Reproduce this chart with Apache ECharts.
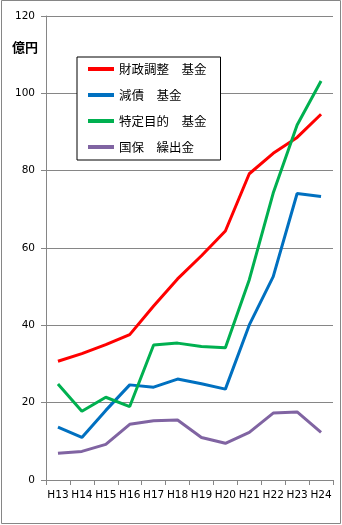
<!DOCTYPE html>
<html>
<head>
<meta charset="utf-8">
<script src="https://cdn.jsdelivr.net/npm/echarts@6/dist/echarts.min.js"></script>
<style>
html,body{margin:0;padding:0;background:#fff;}
#c{width:342px;height:525px;}
</style>
</head>
<body>
<div id="c"></div>
<script>
const categories = ['H13','H14','H15','H16','H17','H18','H19','H20','H21','H22','H23','H24'];
const zaiseiChousei = [30.7, 32.7, 35.0, 37.6, 45.0, 52.0, 58.0, 64.4, 79.2, 84.5, 88.6, 94.6];
const gensai = [13.7, 11.0, 18.0, 24.6, 24.0, 26.1, 24.9, 23.5, 40.1, 52.6, 74.1, 73.3];
const tokuteiMokuteki = [24.8, 17.8, 21.4, 19.0, 34.9, 35.4, 34.5, 34.2, 51.8, 74.2, 91.8, 103.2];
const kokuhoKuridashi = [6.9, 7.4, 9.2, 14.4, 15.3, 15.5, 11.0, 9.5, 12.3, 17.3, 17.6, 12.3];
const seriesNames = ['財政調整　基金', '減債　基金', '特定目的　基金', '国保　繰出金'];
const seriesColors = ['#FF0000', '#0070C0', '#00B050', '#8064A2'];
const yTicks = {min: 0, max: 120, interval: 20};

const dataSets = [zaiseiChousei, gensai, tokuteiMokuteki, kokuhoKuridashi];
const chart = echarts.init(document.getElementById('c'), null, {renderer: 'canvas'});
const axisGray = '#868686';
chart.setOption({
  animation: false,
  backgroundColor: '#fff',
  textStyle: {fontFamily: 'DejaVu Sans'},
  grid: {left: 46, right: 9, top: 16, bottom: 45},
  legend: {
    orient: 'vertical',
    left: 77, top: 57,
    padding: [5, 14, 6, 11],
    backgroundColor: '#fff',
    borderColor: '#000',
    borderWidth: 1,
    itemWidth: 26,
    itemHeight: 4,
    itemGap: 12,
    icon: 'rect',
    textStyle: {fontFamily: 'Noto Sans CJK JP', fontSize: 12.5, color: '#000', lineHeight: 14},
    data: seriesNames
  },
  xAxis: {
    type: 'category',
    data: categories,
    boundaryGap: true,
    axisLine: {lineStyle: {color: axisGray, width: 1}},
    axisTick: {show: true, interval: 0, length: 5, lineStyle: {color: axisGray}},
    axisLabel: {interval: 0, color: '#000', fontSize: 10.5, fontFamily: 'DejaVu Sans', margin: 10},
    splitLine: {show: false}
  },
  yAxis: {
    type: 'value',
    min: yTicks.min, max: yTicks.max, interval: yTicks.interval,
    axisLine: {show: true, lineStyle: {color: axisGray, width: 1}},
    axisTick: {show: true, length: 5, lineStyle: {color: axisGray}},
    axisLabel: {color: '#000', fontSize: 10.5, fontFamily: 'DejaVu Sans', margin: 11},
    splitLine: {show: true, lineStyle: {color: axisGray, width: 1}}
  },
  graphic: [
    {type: 'rect', shape: {x: 1.5, y: 0.5, width: 339, height: 523}, style: {fill: 'none', stroke: axisGray, lineWidth: 1}, silent: true, z: -1},
    {type: 'text', left: 12, top: 41, style: {text: '億円', fontFamily: 'Noto Sans CJK JP', fontWeight: 'bold', fontSize: 13, fill: '#000'}}
  ],
  series: seriesNames.map((n, i) => ({
    name: n,
    type: 'line',
    data: dataSets[i],
    symbol: 'none',
    color: seriesColors[i],
    lineStyle: {width: 3, color: seriesColors[i]},
    itemStyle: {color: seriesColors[i]}
  }))
});
</script>
</body>
</html>
